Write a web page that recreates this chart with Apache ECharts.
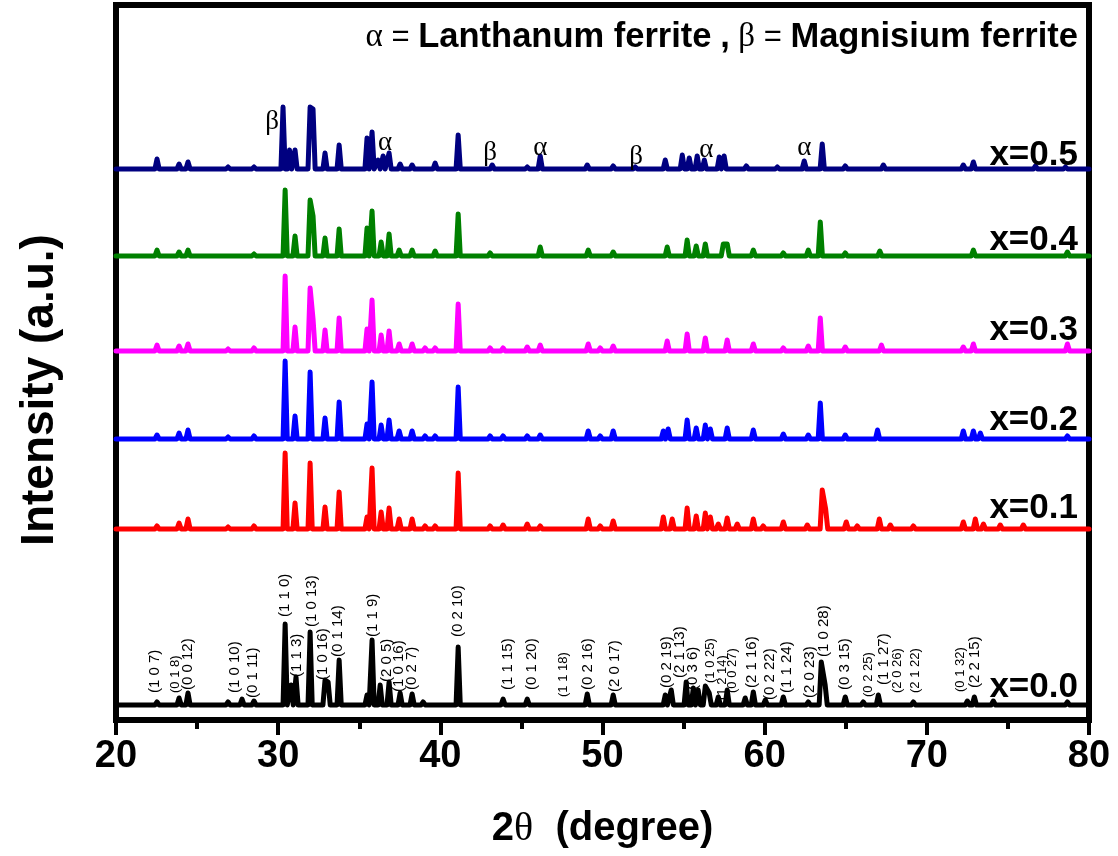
<!DOCTYPE html>
<html><head><meta charset="utf-8">
<script src="https://cdn.jsdelivr.net/npm/echarts@6.0.0/dist/echarts.min.js"></script>
<style>html,body{margin:0;padding:0;background:#fff}#c{width:1118px;height:856px}</style>
</head><body><div id="c"></div>
<script>
// ---------- DATA ----------
const sampleNames = ['x=0.0', 'x=0.1', 'x=0.2', 'x=0.3', 'x=0.4', 'x=0.5'];
const baselineOffsets = [15, 191, 281, 369, 464, 551];   // vertical stacking offsets (a.u.)
const sampleLabelY = [33, 212, 300, 390, 480, 565];      // where the x=... tag sits (a.u.)
const sampleLabelX = 79.35;                               // 2θ where tag text ends

// peaks: [2θ, height above own baseline]
const peaks_x00 = [[22.53,3],[23.89,7],[24.44,12],[26.91,3],[27.77,6],[28.51,4],[30.43,81],[30.80,20],[31.10,28],[31.97,73],[32.89,25],[33.08,23],[33.76,45],[35.48,10],[35.79,65],[36.29,20],[36.84,23],[37.52,12],[38.26,11],[38.94,3],[41.10,58],[43.87,6],[45.36,6],[49.06,11],[50.66,10],[53.87,10],[54.24,15],[55.16,23],[55.60,17],[55.90,15],[56.34,19],[56.58,12],[57.14,8],[57.69,15],[58.80,7],[59.30,13],[60.04,5],[61.15,8],[62.69,3],[63.49,43],[63.73,20],[64.97,8],[66.08,3],[67.01,10],[69.17,3],[72.50,4],[72.93,8],[74.10,4],[78.67,3]];
const peaks_x01 = [[22.53,3],[23.89,6],[24.44,10],[26.91,2],[28.51,3],[30.43,76],[31.04,26],[31.97,66],[32.89,22],[33.76,37],[35.48,12],[35.79,61],[36.35,17],[36.84,21],[37.46,10],[38.26,10],[39.06,3],[39.68,3],[41.10,56],[43.07,3],[43.87,4],[45.36,5],[46.16,3],[49.12,10],[49.86,3],[50.66,8],[53.75,12],[54.30,10],[55.22,21],[55.78,13],[56.34,16],[56.65,12],[57.14,5],[57.69,11],[58.31,5],[59.30,10],[59.91,3],[61.15,7],[62.63,4],[63.55,39],[63.76,20],[65.03,7],[65.71,3],[67.07,10],[67.75,4],[69.17,3],[72.25,7],[72.99,10],[73.49,5],[74.53,4],[75.95,4]];
const peaks_x02 = [[22.53,4],[23.89,6],[24.44,9],[26.91,2],[28.51,3],[30.43,78],[31.04,23],[31.97,67],[32.89,21],[33.76,37],[35.48,15],[35.79,57],[36.35,14],[36.84,19],[37.46,8],[38.26,8],[39.06,3],[39.68,3],[41.10,52],[43.07,3],[43.87,3],[45.36,3],[46.16,4],[49.12,8],[49.86,3],[50.66,8],[53.75,8],[54.05,10],[55.22,19],[55.78,11],[56.34,14],[56.65,10],[57.69,11],[59.30,9],[61.15,5],[62.69,4],[63.43,36],[64.97,4],[66.96,9],[72.25,8],[72.87,8],[73.30,6],[78.67,3]];
const peaks_x03 = [[22.53,6],[23.89,5],[24.44,7],[26.91,2],[28.51,3],[30.43,75],[31.04,24],[31.97,63],[32.15,32],[32.89,21],[33.76,33],[35.48,22],[35.79,51],[36.35,16],[36.84,20],[37.46,7],[38.26,7],[39.06,3],[39.68,3],[41.10,47],[43.07,3],[43.87,3],[45.36,4],[46.16,6],[49.12,7],[49.86,3],[50.66,5],[53.99,10],[55.22,17],[56.34,13],[57.69,11],[59.30,7],[61.15,3],[62.69,5],[63.43,33],[64.97,4],[67.20,6],[72.25,4],[72.87,7],[78.67,7]];
const peaks_x04 = [[22.53,6],[23.89,4],[24.44,6],[28.51,2],[30.43,66],[31.04,20],[31.97,56],[32.15,40],[32.89,18],[33.76,27],[35.48,28],[35.79,45],[36.35,14],[36.84,22],[37.46,6],[38.26,6],[39.68,5],[41.10,42],[43.07,3],[46.16,9],[49.12,6],[50.66,4],[53.99,9],[55.22,16],[55.78,10],[56.34,12],[57.45,12],[57.69,12],[59.30,6],[61.15,3],[62.69,6],[63.43,34],[64.97,3],[67.10,5],[72.87,6],[78.67,4]];
const peaks_x05 = [[22.53,10],[23.89,5],[24.44,7],[26.91,2],[28.51,2],[30.30,62],[30.70,19],[31.04,19],[31.97,62],[32.15,60],[32.89,16],[33.76,24],[35.48,31],[35.79,37],[36.16,9],[36.47,13],[36.84,16],[37.52,5],[38.26,4],[39.68,6],[41.10,34],[43.20,4],[45.36,2],[46.16,13],[49.06,4],[50.66,3],[52.02,2],[53.87,9],[54.92,14],[55.35,11],[55.84,13],[56.28,9],[57.20,12],[57.50,13],[58.87,3],[60.78,2],[62.44,8],[63.55,25],[64.97,3],[67.32,4],[72.25,4],[72.87,7],[76.70,3],[78.55,2]];
const allPeaks = [peaks_x00, peaks_x01, peaks_x02, peaks_x03, peaks_x04, peaks_x05];

// Miller-index annotations on x=0.0: text, 2θ, intensity where text starts
const hklText = ['(1 0 7)','(0 1 8)','(0 0 12)','(1 0 10)','(0 1 11)','(1 1 0)','(1 1 3)','(1 0 13)','(1 0 16)','(0 1 14)','(1 1 9)','(2 0 5)','(1 0 16)','(0 2 7)','(0 2 10)','(1 1 15)','(0 1 20)','(1 1 18)','(0 2 16)','(2 0 17)','(0 2 19)','(2 1 13)','(0 3 6)','(1 0 25)','(1 2 14)','(0 0 27)','(2 1 16)','(0 2 22)','(1 1 24)','(2 0 23)','(1 0 28)','(0 3 15)','(0 2 25)','(1 1 27)','(2 0 26)','(2 1 22)','(0 1 32)','(2 2 15)'];
const hklPos  = [22.41,23.64,24.44,27.34,28.45,30.43,31.17,32.09,32.77,33.70,35.85,36.72,37.46,38.26,41.10,44.18,45.66,47.58,49.12,50.78,53.99,54.79,55.60,56.64,57.38,58.00,59.23,60.35,61.39,62.81,63.62,64.97,66.39,67.32,68.18,69.29,72.07,72.99];
const hklBase = [27,27,30,27,22,103,43,93,40,63,83,38,28,30,83,30,30,23,30,28,32,42,30,37,20,27,32,20,27,22,63,30,23,35,27,27,28,32];

// phase markers on x=0.5
const phaseText = ['β','α','β','α','β','α','α'];
const phasePos  = [29.62,36.59,43.07,46.16,52.08,56.40,62.44];
const phaseY    = [598,577,567,572,563,570,572];

const legendText = ['α', '=', 'Lanthanum ferrite', ',', 'β', '=', 'Magnisium ferrite'];

// ---------- STYLE ----------
const sampleColors = ['#000000','#ff0000','#0000ff','#ff00ff','#008000','#000080'];
const smallHkl = {'(0 1 8)':1,'(1 0 25)':1,'(1 2 14)':1,'(0 0 27)':1,'(0 2 25)':1,'(2 0 26)':1,'(2 1 22)':1,'(0 1 32)':1,'(1 1 18)':1};
const HALF = 0.13;

function buildTrace(peaks, off) {
  const pts = [[20, off]];
  peaks.forEach((p, i) => {
    const prev = peaks[i - 1], next = peaks[i + 1];
    if (!prev || p[0] - prev[0] > 2 * HALF) pts.push([p[0] - HALF, off]);
    pts.push([p[0], off + p[1]]);
    if (!next || next[0] - p[0] > 2 * HALF) pts.push([p[0] + HALF, off]);
  });
  pts.push([80, off]);
  return pts;
}

const hiddenDot = { color: 'transparent', opacity: 1 };
const series = [];
for (let i = sampleNames.length - 1; i >= 0; i--) {
  series.push({
    type: 'line', name: sampleNames[i], data: buildTrace(allPeaks[i], baselineOffsets[i]),
    showSymbol: false, symbol: 'none', silent: true,
    lineStyle: { color: sampleColors[i], width: 5, join: 'round', cap: 'round' }, z: 2
  });
}
series.push({
  type: 'scatter', silent: true, symbolSize: 1, itemStyle: hiddenDot,
  data: sampleNames.map((n, i) => ({ value: [sampleLabelX, sampleLabelY[i]], name: n })),
  label: { show: true, position: 'left', distance: 0, formatter: p => p.name, opacity: 1,
    fontFamily: 'Liberation Sans', fontWeight: 'bold', fontSize: 35, color: '#000' }, z: 5
});
series.push({
  type: 'scatter', silent: true, symbolSize: 1, itemStyle: hiddenDot,
  data: hklText.map((t, i) => ({ value: [hklPos[i], hklBase[i]], name: t,
    label: { fontSize: smallHkl[t] ? 13 : 15 } })),
  label: { show: true, position: 'inside', rotate: 90, align: 'left', verticalAlign: 'middle', opacity: 1,
    formatter: p => p.name, fontFamily: 'Liberation Sans', fontSize: 15, color: '#000' }, z: 5
});
series.push({
  type: 'scatter', silent: true, symbolSize: 1, itemStyle: hiddenDot,
  data: phaseText.map((t, i) => ({ value: [phasePos[i], phaseY[i]], name: t })),
  label: { show: true, position: 'inside', formatter: p => p.name, opacity: 1,
    fontFamily: 'Liberation Serif', fontSize: 27, color: '#000' }, z: 5
});

const chart = echarts.init(document.getElementById('c'), null, { renderer: 'canvas' });
chart.setOption({
  animation: false,
  backgroundColor: '#fff',
  grid: { left: 116, right: 29, top: 5, bottom: 136, show: true, borderColor: '#000', borderWidth: 6 },
  xAxis: {
    type: 'value', min: 20, max: 80, interval: 10,
    axisLine: { show: true, lineStyle: { color: '#000', width: 6 } },
    axisTick: { show: true, length: 15, lineStyle: { color: '#000', width: 4 } },
    minorTick: { show: true, splitNumber: 2, length: 9, lineStyle: { color: '#000', width: 4 } },
    splitLine: { show: false },
    axisLabel: { margin: 18, fontFamily: 'Liberation Sans', fontWeight: 'bold', fontSize: 38, color: '#000' },
    name: '{b|2}{t|θ}{b|  (degree)}', nameLocation: 'middle', nameGap: 89,
    nameTextStyle: { rich: {
      b: { fontFamily: 'Liberation Sans', fontWeight: 'bold', fontSize: 40, color: '#000' },
      t: { fontFamily: 'Liberation Serif', fontSize: 40, color: '#000' } } }
  },
  yAxis: {
    type: 'value', min: 0, max: 715,
    axisLine: { show: true, lineStyle: { color: '#000', width: 6 } },
    axisTick: { show: false }, axisLabel: { show: false }, splitLine: { show: false }
  },
  graphic: [
    { type: 'text', x: 40, y: 390, rotation: Math.PI / 2, silent: true,
      style: { text: 'Intensity (a.u.)', font: 'bold 46px "Liberation Sans"', fill: '#000',
        align: 'center', verticalAlign: 'middle' } },
    { type: 'text', x: 1078, y: 37, silent: true,
      style: { text: `{g|${legendText[0]}}{s| }{e|${legendText[1]}}{s| }{b|${legendText[2]}}{s| }{b|${legendText[3]}}{s| }{g|${legendText[4]}}{s| }{e|${legendText[5]}}{s| }{b|${legendText[6]}}`,
        align: 'right', verticalAlign: 'middle', fill: '#000',
        rich: {
          g: { fontFamily: 'Liberation Serif', fontSize: 33, fill: '#000' },
          e: { fontFamily: 'Liberation Sans', fontSize: 31, fill: '#000' },
          s: { fontFamily: 'Liberation Sans', fontSize: 31, fill: '#000' },
          b: { fontFamily: 'Liberation Sans', fontWeight: 'bold', fontSize: 34.5, fill: '#000' } } } }
  ],
  series: series
});
</script></body></html>
